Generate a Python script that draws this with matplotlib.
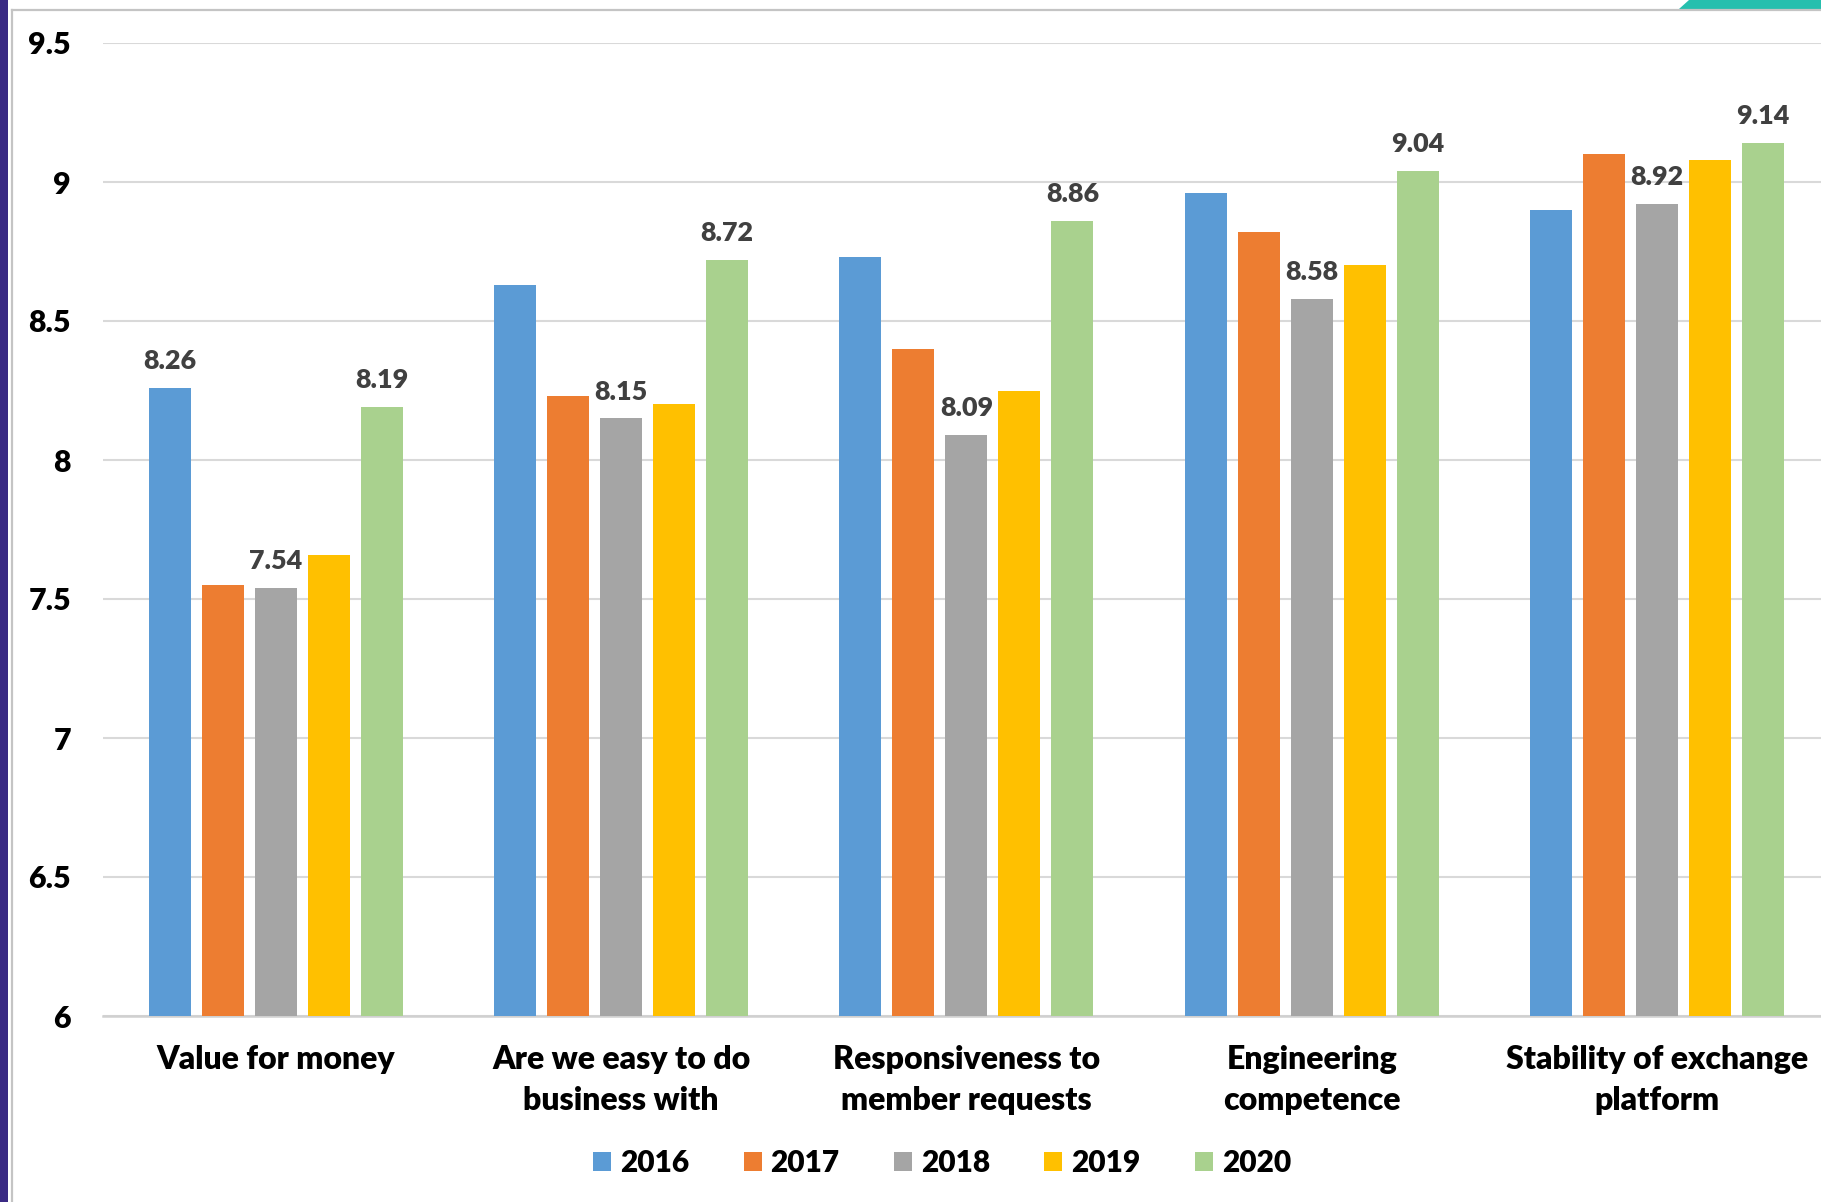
"""Grouped bar chart: member satisfaction scores 2016-2020."""

import matplotlib

matplotlib.use("Agg")
import matplotlib.pyplot as plt
import matplotlib.patches as mpatches
from matplotlib.lines import Line2D
import numpy as np

plt.rcParams["font.family"] = ["Lato", "DejaVu Sans"]

categories = [
    "Value for money",
    "Are we easy to do\nbusiness with",
    "Responsiveness to\nmember requests",
    "Engineering\ncompetence",
    "Stability of exchange\nplatform",
]
years = ["2016", "2017", "2018", "2019", "2020"]
scores_2016 = [8.26, 8.63, 8.73, 8.96, 8.90]
scores_2017 = [7.55, 8.23, 8.40, 8.82, 9.10]
scores_2018 = [7.54, 8.15, 8.09, 8.58, 8.92]
scores_2019 = [7.66, 8.20, 8.25, 8.70, 9.08]
scores_2020 = [8.19, 8.72, 8.86, 9.04, 9.14]
series = [scores_2016, scores_2017, scores_2018, scores_2019, scores_2020]
colors = ["#5B9BD5", "#ED7D31", "#A5A5A5", "#FFC000", "#A9D18E"]

# which bars carry a value label: (series index, category index)
labelled = [(0, 0)] + [(2, i) for i in range(5)] + [(4, i) for i in range(5)]

WEIGHT = "heavy"

W, H = 1821, 1202
fig = plt.figure(figsize=(W / 100, H / 100), dpi=100, facecolor="white")

# slide decoration: purple strip, grey frame, teal tab
fig.patches.append(mpatches.Rectangle((0, 0), 8 / W, 1, transform=fig.transFigure,
                                      facecolor="#3A2A84", edgecolor="none", zorder=5))
fig.add_artist(Line2D([12 / W, 12 / W], [0, 1 - 10 / H], transform=fig.transFigure,
                      color="#C4C4C4", linewidth=1.6))
fig.add_artist(Line2D([12 / W, 1], [1 - 10 / H, 1 - 10 / H], transform=fig.transFigure,
                      color="#C4C4C4", linewidth=1.6))
fig.patches.append(mpatches.Polygon(
    [(1679 / W, 1 - 9 / H), (1689 / W, 1), (1, 1), (1, 1 - 9 / H)],
    closed=True, transform=fig.transFigure, facecolor="#26BFAE", edgecolor="none"))

ax = fig.add_axes([103 / W, 1 - 1016 / H, (W - 103) / W, (1016 - 43) / H])

x = np.arange(len(categories))
bar_w = 0.1217
step = 0.1535
for k, (vals, col, yr) in enumerate(zip(series, colors, years)):
    pos = x + (k - 2) * step
    ax.bar(pos, np.array(vals) - 6, bottom=6, width=bar_w, color=col, label=yr, zorder=3)

for k, i in labelled:
    ax.annotate(f"{series[k][i]:.2f}", (x[i] + (k - 2) * step, series[k][i]),
                xytext=(0, 13.5), textcoords="offset points", ha="center", va="baseline",
                fontsize=19.4, fontweight=WEIGHT, color="#404040", zorder=4)

ax.set_ylim(6, 9.5)
ax.set_xlim(-0.5, (W - 276.2) / 345.25)
ax.set_yticks([6, 6.5, 7, 7.5, 8, 8.5, 9, 9.5])
ax.set_yticklabels(["6", "6.5", "7", "7.5", "8", "8.5", "9", "9.5"])
ax.set_xticks(x)
ax.set_xticklabels(categories, linespacing=1.5)
ax.grid(axis="y", color="#D9D9D9", linewidth=1.5, zorder=0)
ax.set_axisbelow(True)
for side in ("top", "right", "left"):
    ax.spines[side].set_visible(False)
ax.spines["bottom"].set_color("#D0D0D0")
ax.spines["bottom"].set_linewidth(1.8)
ax.tick_params(axis="y", length=0, pad=23, labelsize=21.8)
ax.tick_params(axis="x", length=0, pad=21, labelsize=23)
for lbl in ax.get_yticklabels() + ax.get_xticklabels():
    lbl.set_fontweight(WEIGHT)
    lbl.set_color("black")

leg = fig.legend(loc="center", bbox_to_anchor=(942 / W, 1 - 1163 / H), ncol=5, frameon=False,
                 prop={"size": 21.5, "weight": WEIGHT}, handlelength=0.6, handleheight=0.6,
                 handletextpad=0.3, columnspacing=1.82)

fig.savefig("out.png", dpi=100, facecolor="white")
plt.close(fig)
